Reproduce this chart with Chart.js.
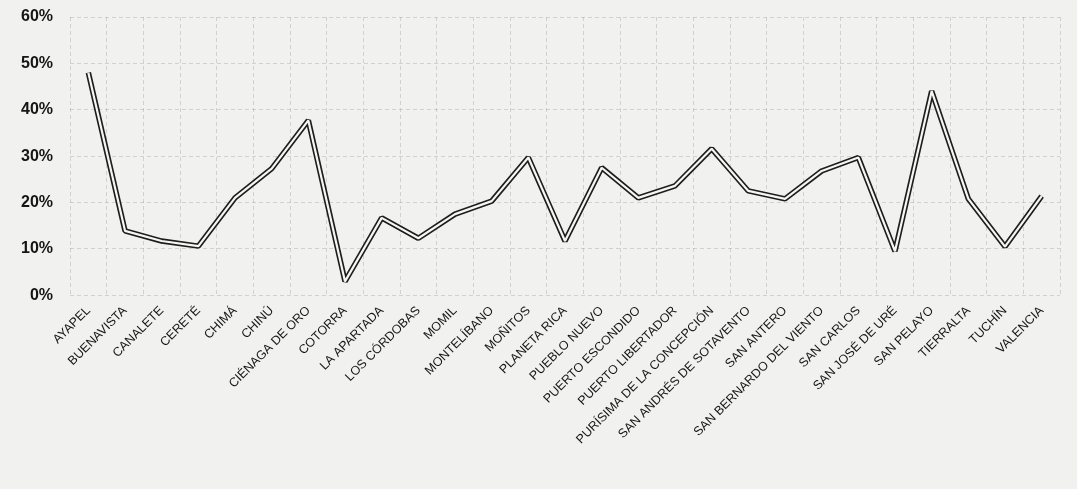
<!DOCTYPE html>
<html>
<head>
<meta charset="utf-8">
<script src="https://cdn.jsdelivr.net/npm/chart.js@4/dist/chart.umd.min.js"></script>
<style>
html,body{margin:0;padding:0;background:#f1f1ef;}
#wrap{width:1077px;height:489px;position:relative;}
</style>
</head>
<body>
<div id="wrap"><canvas id="c" width="1077" height="489"></canvas></div>
<script>
const categories = ["AYAPEL","BUENAVISTA","CANALETE","CERETÉ","CHIMÁ","CHINÚ","CIÉNAGA DE ORO","COTORRA","LA APARTADA","LOS CÓRDOBAS","MOMIL","MONTELÍBANO","MOÑITOS","PLANETA RICA","PUEBLO NUEVO","PUERTO ESCONDIDO","PUERTO LIBERTADOR","PURÍSIMA DE LA CONCEPCIÓN","SAN ANDRÉS DE SOTAVENTO","SAN ANTERO","SAN BERNARDO DEL VIENTO","SAN CARLOS","SAN JOSÉ DE URÉ","SAN PELAYO","TIERRALTA","TUCHÍN","VALENCIA"];
const values = [0.48,0.139,0.117,0.106,0.21,0.273,0.377,0.03,0.167,0.123,0.175,0.203,0.297,0.117,0.275,0.21,0.236,0.316,0.225,0.208,0.268,0.297,0.095,0.44,0.208,0.105,0.214];
const yTicks = [0,0.1,0.2,0.3,0.4,0.5,0.6];

new Chart(document.getElementById('c'), {
  type: 'line',
  data: {
    labels: categories,
    datasets: [
      {data: values, borderColor:'#1e1e1e', borderWidth:5.5, pointRadius:0, tension:0, borderJoinStyle:'bevel', order:2},
      {data: values, borderColor:'#f6f6f4', borderWidth:2.2, pointRadius:0, tension:0, borderJoinStyle:'bevel', order:1}
    ]
  },
  options: {
    responsive:false, animation:false, devicePixelRatio:1,
    layout:{padding:{left:4,right:17,top:17,bottom:34}},
    plugins:{legend:{display:false}, tooltip:{enabled:false}},
    scales:{
      x:{
        offset:true,
        grid:{offset:true, color:'rgba(120,120,120,0.26)', tickLength:0, drawTicks:false},
        border:{display:false, dash:[4,3]},
        ticks:{autoSkip:false, minRotation:45, maxRotation:45, padding:8, color:'#151515', font:{family:'Liberation Sans, Arial', size:12.5}}
      },
      y:{
        min:0, max:0.6,
        afterFit: s => { s.paddingTop = 0; s.paddingBottom = 0; },
        afterBuildTicks: ax => { ax.ticks = yTicks.map(v => ({value:v})); },
        grid:{color:'rgba(120,120,120,0.26)', drawTicks:false},
        border:{display:false, dash:[4,3]},
        ticks:{padding:17, color:'#151515', font:{family:'Liberation Sans, Arial', size:16, weight:'bold'}, callback: v => Math.round(v*100) + '%'}
      }
    }
  }
});
</script>
</body>
</html>
